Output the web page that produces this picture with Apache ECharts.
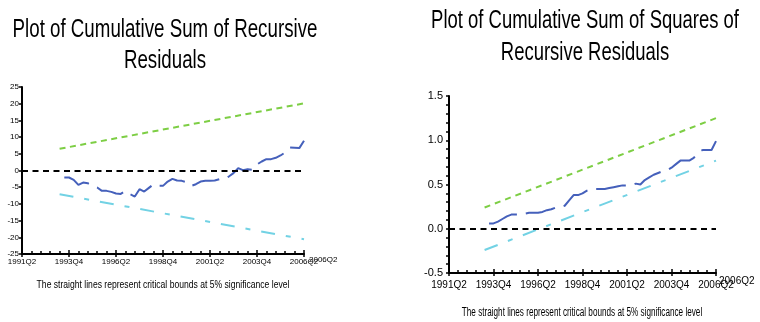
<!DOCTYPE html>
<html>
<head>
<meta charset="utf-8">
<script src="https://cdn.jsdelivr.net/npm/echarts@6/dist/echarts.min.js"></script>
<style>
  html, body { margin: 0; padding: 0; background: #fff; }
  #chart { width: 760px; height: 322px; }
</style>
</head>
<body>
<div id="chart"></div>
<script>
// quarter labels for the major x ticks (every 10 quarters)
var tickLabels = ['1991Q2', '1993Q4', '1996Q2', '1998Q4', '2001Q2', '2003Q4', '2006Q2'];
var endLabel = '2006Q2';

// CUSUM of recursive residuals, first value at quarter index 9
var cusumStart = 9;
var cusum = [-2.1, -2.1, -2.8, -4.3, -3.6, -3.8, -4.6, -5.1, -6.1, -6.1,
             -6.4, -6.9, -7.0, -6.1, -7.1, -7.8, -5.6, -6.3, -5.2, -4.1,
             -4.6, -4.6, -3.3, -2.5, -3.0, -3.1, -3.5, -4.6, -4.1, -3.3,
             -3.1, -3.1, -3.0, -2.6, -2.6, -1.8, -0.8, 0.7, 0.1, 0.4,
             0.2, 1.8, 2.7, 3.4, 3.4, 3.8, 4.5, 5.4, 6.9, 6.8,
             6.7, 8.9];
var cusumUpper = [[8, 6.5], [60, 20.1]];
var cusumLower = [[8, -7.1], [60, -20.6]];

// CUSUM of squares, first value at quarter index 9
var sqStart = 9;
var cusumSq = [0.06, 0.06, 0.08, 0.11, 0.14, 0.16, 0.16, 0.16, 0.17, 0.18,
               0.18, 0.18, 0.19, 0.21, 0.22, 0.24, 0.24, 0.26, 0.32, 0.38,
               0.38, 0.40, 0.43, 0.45, 0.45, 0.45, 0.45, 0.46, 0.47, 0.48,
               0.49, 0.49, 0.49, 0.51, 0.50, 0.55, 0.58, 0.61, 0.63, 0.65,
               0.66, 0.69, 0.73, 0.77, 0.77, 0.77, 0.80, 0.86, 0.89, 0.89,
               0.89, 0.99];
var sqUpper = [[8, 0.24], [60, 1.25]];
var sqLower = [[8, -0.24], [60, 0.77]];

var caption = 'The straight lines represent critical bounds at 5% significance level';
var narrow = '"Liberation Sans Narrow", "Liberation Sans", Arial, sans-serif';
var sans = '"Liberation Sans", Arial, sans-serif';

function pairs(start, vals) {
    return vals.map(function (v, i) { return [start + i, v]; });
}

function xAxisMain(grid, size, margin) {
    return {
        type: 'value', gridIndex: grid, min: 0, max: 60, interval: 10, position: 'bottom',
        axisLine: { onZero: false, lineStyle: { color: '#000', width: 2 } },
        axisTick: { inside: true, length: 4, lineStyle: { color: '#000', width: 1.5 } },
        minorTick: { show: true, splitNumber: 5, length: 3, lineStyle: { color: '#000', width: 1.5 } },
        splitLine: { show: false },
        axisLabel: {
            color: '#000', fontSize: size, fontFamily: narrow, margin: margin,
            formatter: function (v) { return tickLabels[Math.round(v / 10)]; }
        }
    };
}

function xAxisOuter(grid) {
    return {
        type: 'value', gridIndex: grid, min: 0, max: 60, interval: 10, position: 'bottom',
        axisLine: { show: false, onZero: false },
        axisTick: { inside: false, length: 3, lineStyle: { color: '#000', width: 1.5 } },
        splitLine: { show: false },
        axisLabel: { show: false }
    };
}

function line(xi, yi, data, color, dash, width) {
    return {
        type: 'line', xAxisIndex: xi, yAxisIndex: yi, data: data,
        showSymbol: false, silent: true,
        lineStyle: { color: color, width: width || 2, type: dash }
    };
}

var zeroMark = {
    silent: true, symbol: 'none', label: { show: false },
    lineStyle: { color: '#000', width: 2, type: [6, 4.5] },
    data: [{ yAxis: 0 }]
};

var blue = '#4560bb', green = '#7dce44', cyan = '#72d2e4';

var s1 = line(0, 0, pairs(cusumStart, cusum), blue, [28, 9]);
s1.markLine = zeroMark;
var s2 = line(2, 1, pairs(sqStart, cusumSq), blue, [30, 9]);
s2.markLine = zeroMark;

var chart = echarts.init(document.getElementById('chart'));
chart.setOption({
    animation: false,
    backgroundColor: '#fff',
    grid: [
        { left: 22, top: 87, width: 282, height: 167 },
        { left: 449, top: 96, width: 267, height: 177 }
    ],
    xAxis: [xAxisMain(0, 8, 4), xAxisOuter(0), xAxisMain(1, 10, 7), xAxisOuter(1)],
    yAxis: [
        {
            type: 'value', gridIndex: 0, min: -25, max: 25, interval: 5,
            axisLine: { show: true, onZero: false, lineStyle: { color: '#000', width: 2 } },
            axisTick: { show: true, length: 3, lineStyle: { color: '#000', width: 1.5 } },
            splitLine: { show: false },
            axisLabel: { color: '#000', fontSize: 8, fontFamily: narrow, margin: 3 }
        },
        {
            type: 'value', gridIndex: 1, min: -0.5, max: 1.5, interval: 0.5,
            axisLine: { show: true, onZero: false, lineStyle: { color: '#000', width: 2 } },
            axisTick: { show: true, length: 3, lineStyle: { color: '#000', width: 1.5 } },
            minorTick: { show: true, splitNumber: 5, length: 3, lineStyle: { color: '#000', width: 1.5 } },
            splitLine: { show: false },
            axisLabel: { color: '#000', fontSize: 11, fontFamily: narrow, margin: 6,
                         formatter: function (v) { return v.toFixed(1); } }
        }
    ],
    series: [
        line(0, 0, cusumUpper, green, [6, 4.5]),
        line(0, 0, cusumLower, cyan, [14, 11, 5, 11]),
        s1,
        line(2, 1, sqUpper, green, [6, 5]),
        line(2, 1, sqLower, cyan, [14, 11, 5, 11]),
        s2
    ],
    graphic: [
        { type: 'text', x: 165, y: 45, scaleX: 0.72,
          style: { text: 'Plot of Cumulative Sum of Recursive\nResiduals', fill: '#000',
                   fontSize: 26, fontFamily: sans, lineHeight: 31,
                   align: 'center', verticalAlign: 'middle' } },
        { type: 'text', x: 585, y: 37, scaleX: 0.71,
          style: { text: 'Plot of Cumulative Sum of Squares of\nRecursive Residuals', fill: '#000',
                   fontSize: 26, fontFamily: sans, lineHeight: 32,
                   align: 'center', verticalAlign: 'middle' } },
        { type: 'text', x: 309, y: 256,
          style: { text: endLabel, fill: '#000', fontSize: 8, fontFamily: narrow,
                   align: 'left', verticalAlign: 'top' } },
        { type: 'text', x: 719, y: 276,
          style: { text: endLabel, fill: '#000', fontSize: 10, fontFamily: narrow,
                   align: 'left', verticalAlign: 'top' } },
        { type: 'text', x: 163, y: 285, scaleX: 0.78,
          style: { text: caption, fill: '#000', fontSize: 11, fontFamily: sans,
                   align: 'center', verticalAlign: 'middle' } },
        { type: 'text', x: 582, y: 313, scaleX: 0.68,
          style: { text: caption, fill: '#000', fontSize: 12, fontFamily: sans,
                   align: 'center', verticalAlign: 'middle' } }
    ]
});
</script>
</body>
</html>
